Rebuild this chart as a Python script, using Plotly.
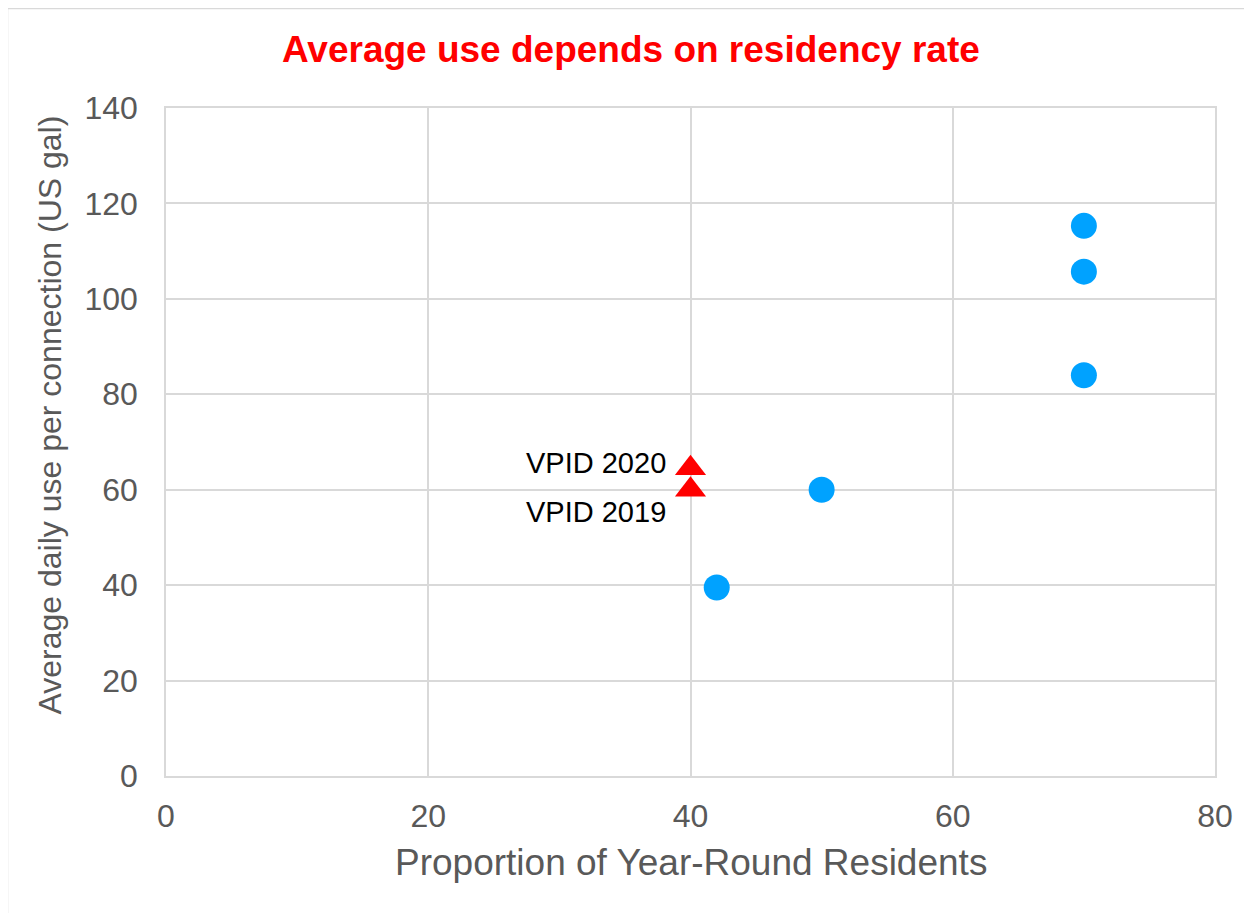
import plotly.graph_objects as go

# ---- data ----
res_x = [70, 70, 70, 50, 42]
res_y = [115.3, 105.7, 84.0, 60.0, 39.5]
vpid_x = [40, 40]
vpid_y = [60.0, 64.5]
vpid_labels = ["VPID 2019", "VPID 2020"]
vpid_label_yshift = [-22, 5]

x_ticks = [0, 20, 40, 60, 80]
y_ticks = [0, 20, 40, 60, 80, 100, 120, 140]

title_text = "Average use depends on residency rate"
x_title = "Proportion of Year-Round Residents"
y_title = "Average daily use per connection (US gal)"

# the page body adds an 8px offset; target screen coords are converted below
OFF = 8
W, H = 1252 - OFF, 913 - OFF
L, T = 166 - OFF, 108 - OFF
R = W - (1215 - OFF)
B = H - (776 - OFF)
PW, PH = W - L - R, H - T - B

def px_x(p):  # screen pixel -> paper
    return (p - OFF - L) / PW

def px_y(p):
    return (H - B - (p - OFF)) / PH

FONT = "Liberation Sans, Arial, sans-serif"
GRID = "#D9D9D9"
GREY = "#595959"

fig = go.Figure()
fig.add_trace(go.Scatter(
    x=res_x, y=res_y, mode="markers",
    marker=dict(symbol="circle", size=26, color="#00A2FF", line=dict(width=0)),
    showlegend=False, hoverinfo="x+y",
))
fig.add_trace(go.Scatter(
    x=vpid_x, y=vpid_y, mode="markers",
    marker=dict(symbol="triangle-up", size=27, color="#FF0000", line=dict(width=0)),
    showlegend=False, hoverinfo="x+y",
))

annotations = []
for xv, yv, lab, ys in zip(vpid_x, vpid_y, vpid_labels, vpid_label_yshift):
    annotations.append(dict(
        x=xv, y=yv, xref="x", yref="y", text=lab, showarrow=False,
        xanchor="right", yanchor="middle", xshift=-23, yshift=ys,
        font=dict(family=FONT, size=29, color="#000000"),
    ))

annotations.append(dict(
    x=px_x(630.5), y=px_y(49), xref="paper", yref="paper",
    text="<b>" + title_text + "</b>", showarrow=False,
    xanchor="center", yanchor="middle",
    font=dict(family=FONT, size=37, color="#FF0000"),
))
annotations.append(dict(
    x=0.5, y=px_y(862.5), xref="paper", yref="paper",
    text=x_title, showarrow=False, xanchor="center", yanchor="middle",
    font=dict(family=FONT, size=37, color=GREY),
))
annotations.append(dict(
    x=px_x(49), y=px_y(415.5), xref="paper", yref="paper",
    text=y_title, showarrow=False, textangle=-90,
    xanchor="center", yanchor="middle",
    font=dict(family=FONT, size=32, color=GREY),
))

fig.update_layout(
    width=W, height=H,
    margin=dict(l=L, r=R, t=T, b=B, pad=0),
    paper_bgcolor="white", plot_bgcolor="white",
    annotations=annotations,
    shapes=[dict(
        type="rect", xref="paper", yref="paper",
        x0=px_x(7.5), x1=px_x(1270), y0=px_y(930), y1=px_y(8.5),
        line=dict(color=GRID, width=1.5), fillcolor="rgba(0,0,0,0)", layer="below",
    )],
)
fig.update_xaxes(
    range=[0, 80], tickvals=x_ticks, showgrid=True, gridcolor=GRID, gridwidth=1.5,
    zeroline=False, showline=True, linecolor=GRID, linewidth=1.5, mirror=True,
    ticks="", ticklabelstandoff=11,
    tickfont=dict(family=FONT, size=32, color=GREY),
)
fig.update_yaxes(
    range=[0, 140], tickvals=y_ticks, showgrid=True, gridcolor=GRID, gridwidth=1.5,
    zeroline=False, showline=True, linecolor=GRID, linewidth=1.5, mirror=True,
    ticks="", ticklabelstandoff=20,
    tickfont=dict(family=FONT, size=32, color=GREY),
)

fig.write_html("out.html")
